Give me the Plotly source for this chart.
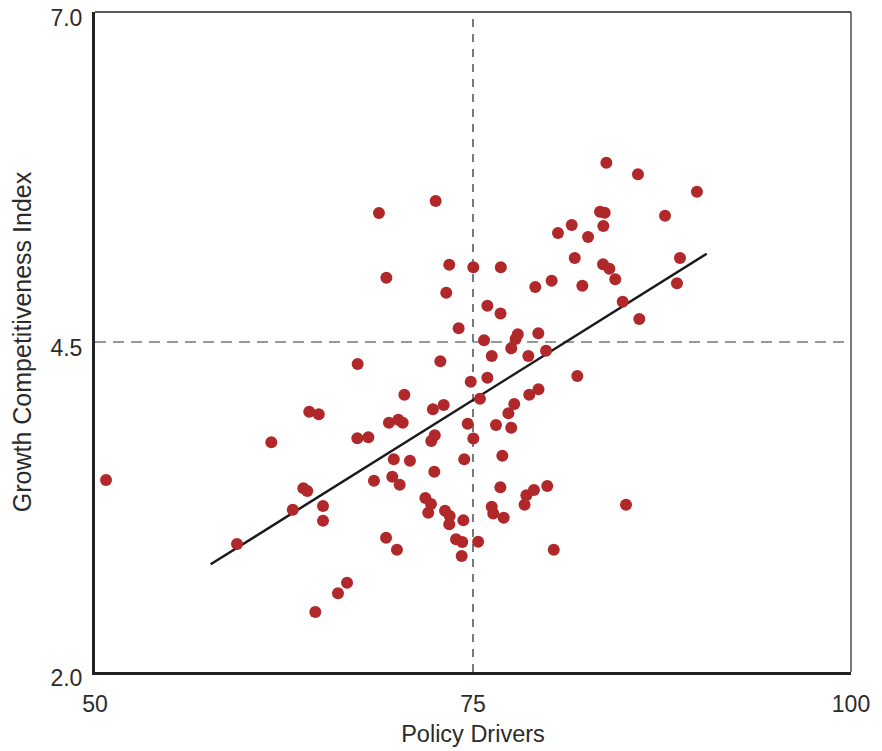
import plotly.graph_objects as go

# Policy driver scores and growth competitiveness index per country
policy_drivers = [
    50.73, 59.39, 61.66, 63.08, 63.78, 64.04, 64.17, 64.80, 65.08, 65.08,
    64.57, 66.07, 66.67, 67.35, 67.37, 68.08, 68.45, 68.78, 69.25, 69.27,
    69.44, 69.66, 69.76, 69.97, 70.06, 70.15, 70.35, 70.46, 70.83, 71.85,
    72.04, 72.22, 72.35, 72.24, 72.47, 72.44, 72.53, 72.84, 73.06, 73.15,
    73.23, 73.46, 73.43, 73.43, 73.88, 74.05, 74.29, 74.36, 74.25, 74.42,
    74.65, 74.85, 75.02, 75.02, 75.34, 75.46, 75.73, 75.95, 75.95, 76.24,
    76.34, 76.24, 76.52, 76.81, 76.82, 76.84, 76.94, 77.03, 77.34, 77.53,
    77.53, 77.73, 77.82, 77.96, 78.41, 78.53, 78.66, 78.72, 79.03, 79.12,
    79.33, 79.32, 79.83, 79.91, 80.20, 80.34, 80.62, 81.53, 81.73, 81.90,
    82.23, 82.61, 83.40, 83.62, 83.71, 83.60, 83.82, 84.02, 84.41, 84.90,
    85.12, 85.91, 86.00, 87.70, 88.49, 88.69, 89.81,
]
competitiveness = [
    3.455, 2.970, 3.740, 3.230, 3.392, 3.371, 3.972, 3.952, 3.258, 3.146,
    2.455, 2.596, 2.677, 3.770, 4.333, 3.778, 3.449, 5.477, 3.017, 4.987,
    3.889, 3.480, 3.611, 2.927, 3.911, 3.419, 3.889, 4.101, 3.601, 3.318,
    3.207, 3.273, 3.990, 3.750, 3.793, 3.517, 5.568, 4.354, 4.023, 3.222,
    4.873, 3.182, 3.119, 5.086, 3.005, 4.604, 2.985, 3.149, 2.879, 3.611,
    3.881, 4.199, 3.769, 5.066, 2.986, 4.070, 4.513, 4.775, 4.230, 3.252,
    3.201, 4.394, 3.871, 3.399, 4.716, 5.067, 3.638, 3.169, 3.960, 3.851,
    4.452, 4.030, 4.523, 4.558, 3.267, 3.339, 4.394, 4.101, 3.379, 4.917,
    4.142, 4.566, 4.434, 3.409, 4.964, 2.927, 5.326, 5.386, 5.136, 4.242,
    4.927, 5.295, 5.487, 5.379, 5.480, 5.089, 5.858, 5.055, 4.975, 4.805,
    3.267, 5.770, 4.674, 5.457, 4.945, 5.136, 5.639,
]

# Fitted trend line end points
trend_x = [57.65, 90.46]
trend_y = [2.816, 5.169]

# Reference cut-offs
x_cut = 75
y_cut = 4.5

x_ticks = [50, 75, 100]
y_ticks = [2.0, 4.5, 7.0]
y_tick_text = ["2.0", "4.5", "7.0"]

fig = go.Figure()

fig.add_trace(go.Scatter(
    x=trend_x, y=trend_y, mode="lines",
    line=dict(color="#1a1a1a", width=2.5),
    hoverinfo="skip", showlegend=False,
))

fig.add_trace(go.Scatter(
    x=policy_drivers, y=competitiveness, mode="markers",
    marker=dict(color="#b0282a", size=12, line=dict(width=0)),
    showlegend=False,
))

# Dashed cut-off lines
fig.add_shape(type="line", xref="x", yref="paper", x0=x_cut, x1=x_cut, y0=0, y1=1,
              line=dict(color="#222222", width=1.2, dash="8px,7px"), layer="below")
fig.add_shape(type="line", xref="paper", yref="y", x0=0, x1=1, y0=y_cut, y1=y_cut,
              line=dict(color="#777777", width=1.5, dash="11px,7px"), layer="below")

# Thin top and right frame edges
fig.add_shape(type="line", xref="paper", yref="paper", x0=0, x1=1, y0=1, y1=1,
              line=dict(color="#222222", width=1.5))
fig.add_shape(type="line", xref="paper", yref="paper", x0=1, x1=1, y0=0, y1=1,
              line=dict(color="#222222", width=1.2))

fig.update_layout(
    width=882, height=751,
    margin=dict(l=95, r=31, t=12, b=79),
    paper_bgcolor="white", plot_bgcolor="white",
    font=dict(family="Liberation Sans, Arial, sans-serif", size=23, color="#2b2b2b"),
    xaxis=dict(
        range=[50, 100], tickvals=x_ticks, ticks="", showgrid=False, zeroline=False,
        showline=True, linecolor="#222222", linewidth=3, automargin=False,
        ticklabelstandoff=9,
        title=dict(text="Policy Drivers", font=dict(size=23.5), standoff=10),
    ),
    yaxis=dict(
        range=[2.0, 7.0], tickvals=y_ticks, ticktext=y_tick_text, ticks="",
        showgrid=False, zeroline=False, automargin=False,
        showline=True, linecolor="#222222", linewidth=3,
        ticklabelstandoff=5, ticklabelshift=6, ticklabeloverflow="allow",
        title=dict(text="Growth Competitiveness Index", font=dict(size=25), standoff=12),
    ),
)

fig.write_html("out.html")
